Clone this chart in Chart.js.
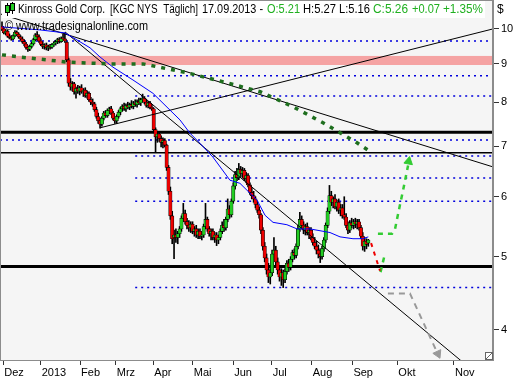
<!DOCTYPE html>
<html>
<head>
<meta charset="utf-8">
<script src="https://cdn.jsdelivr.net/npm/chart.js@4.4.0/dist/chart.umd.min.js"></script>
<style>
  html, body { margin: 0; padding: 0; background: #fff; }
  #wrap { width: 514px; height: 380px; }
</style>
</head>
<body>
<div id="wrap"><canvas id="chart"></canvas></div>
<script>
// Kinross Gold (KGC, NYSE) daily candles, Dec 2012 - 17.09.2013, x = bar number
const opens = [
  10.08,10.00,9.88,9.93,9.78,9.74,9.70,9.79,9.90,9.84,
  9.76,9.70,9.62,9.55,9.45,9.40,9.48,9.56,9.68,9.82,
  9.76,9.64,9.54,9.48,9.52,9.44,9.48,9.46,9.53,9.58,
  9.62,9.68,9.62,9.72,9.70,9.60,9.10,8.48,8.38,8.46,
  8.26,8.34,8.28,8.36,8.26,8.30,8.16,8.22,8.06,8.00,
  7.96,7.82,7.66,7.56,7.48,7.62,7.74,7.68,7.80,7.84,
  7.74,7.62,7.56,7.66,7.76,7.84,7.90,7.84,7.92,7.88,
  7.94,7.90,7.98,7.94,8.02,7.98,8.06,8.10,8.00,7.92,
  7.98,7.88,7.84,7.36,7.20,7.26,7.16,7.08,7.12,7.02,
  6.56,6.10,5.66,5.30,5.34,5.30,5.36,5.44,5.62,5.70,
  5.56,5.50,5.46,5.52,5.40,5.44,5.34,5.40,5.32,5.34,
  5.48,5.60,5.44,5.36,5.40,5.30,5.34,5.26,5.30,5.40,
  5.50,5.46,5.60,5.78,5.68,5.92,6.20,6.42,6.36,6.52,
  6.44,6.50,6.34,6.40,6.22,6.08,6.02,5.96,5.86,5.76,
  5.68,5.42,5.16,4.98,4.80,4.70,4.76,5.04,5.10,4.92,
  4.80,4.70,4.76,4.66,4.78,4.90,4.84,4.96,5.06,5.02,
  5.16,5.44,5.60,5.50,5.42,5.48,5.38,5.42,5.30,5.22,
  5.16,5.10,5.04,5.00,5.12,5.26,5.50,5.74,6.02,5.90,
  5.96,5.82,5.90,5.76,5.80,5.68,5.64,5.50,5.42,5.54,
  5.50,5.56,5.52,5.56,5.46,5.32,5.16,5.24,5.21
];
const highs = [
  10.22,10.05,9.98,9.97,9.85,9.80,9.82,9.95,9.94,9.88,
  9.80,9.76,9.68,9.60,9.50,9.52,9.60,9.72,9.86,9.92,
  9.82,9.70,9.60,9.56,9.58,9.52,9.54,9.56,9.62,9.66,
  9.72,9.74,9.76,9.84,9.88,9.62,9.15,8.60,8.52,8.50,
  8.38,8.42,8.40,8.44,8.34,8.36,8.28,8.26,8.12,8.08,
  8.00,7.88,7.74,7.62,7.66,7.78,7.80,7.84,7.88,7.90,
  7.78,7.66,7.70,7.80,7.88,7.94,7.98,7.96,8.00,7.98,
  8.04,8.02,8.06,8.06,8.10,8.10,8.20,8.14,8.06,8.02,
  8.02,7.94,7.86,7.40,7.32,7.32,7.22,7.18,7.16,7.04,
  6.60,6.18,5.74,5.42,5.44,5.40,5.48,5.66,5.88,5.76,
  5.62,5.58,5.56,5.56,5.48,5.50,5.44,5.44,5.38,5.52,
  5.88,5.64,5.48,5.44,5.44,5.38,5.38,5.34,5.44,5.56,
  5.60,5.64,5.96,5.84,5.96,6.26,6.48,6.54,6.64,6.58,
  6.56,6.54,6.46,6.44,6.26,6.16,6.10,6.00,5.92,5.82,
  5.70,5.46,5.22,5.04,4.90,4.82,5.10,5.30,5.16,4.98,
  4.86,4.82,4.80,4.82,4.94,4.96,5.00,5.10,5.12,5.20,
  5.50,5.72,5.66,5.56,5.52,5.54,5.46,5.46,5.36,5.30,
  5.24,5.18,5.12,5.16,5.30,5.54,5.80,6.21,6.10,6.00,
  6.04,5.94,5.96,5.86,5.86,6.00,5.70,5.56,5.58,5.62,
  5.60,5.62,5.60,5.60,5.50,5.38,5.30,5.28,5.27
];
const lows = [
  9.95,9.85,9.82,9.75,9.70,9.66,9.68,9.76,9.80,9.72,
  9.66,9.58,9.50,9.40,9.34,9.36,9.44,9.52,9.64,9.72,
  9.60,9.50,9.42,9.40,9.38,9.36,9.40,9.42,9.48,9.52,
  9.56,9.58,9.60,9.66,9.60,9.05,8.40,8.30,8.28,8.20,
  8.10,8.22,8.18,8.22,8.14,8.12,8.10,8.02,7.94,7.90,
  7.78,7.62,7.50,7.39,7.44,7.58,7.64,7.64,7.72,7.70,
  7.58,7.50,7.50,7.62,7.70,7.78,7.80,7.78,7.84,7.82,
  7.86,7.84,7.90,7.88,7.94,7.92,8.00,7.96,7.88,7.86,
  7.84,7.80,7.30,6.88,7.08,7.10,6.98,6.96,6.98,6.50,
  6.04,5.60,5.20,4.97,5.22,5.20,5.30,5.40,5.56,5.52,
  5.44,5.40,5.38,5.36,5.32,5.30,5.28,5.28,5.26,5.30,
  5.44,5.40,5.32,5.26,5.26,5.22,5.17,5.20,5.26,5.36,
  5.40,5.42,5.56,5.62,5.64,5.88,6.14,6.30,6.32,6.38,
  6.36,6.30,6.26,6.18,6.04,5.96,5.90,5.80,5.72,5.62,
  5.36,5.10,4.92,4.74,4.62,4.60,4.72,4.98,4.86,4.74,
  4.64,4.58,4.55,4.62,4.74,4.78,4.80,4.92,4.96,4.98,
  5.12,5.40,5.44,5.36,5.34,5.34,5.28,5.26,5.18,5.12,
  5.04,4.98,4.91,4.96,5.08,5.22,5.46,5.70,5.84,5.80,
  5.78,5.74,5.70,5.66,5.62,5.60,5.46,5.36,5.38,5.46,
  5.44,5.46,5.44,5.42,5.28,5.10,5.08,5.12,5.16
];
const closes = [
  9.98,9.88,9.93,9.78,9.74,9.70,9.79,9.90,9.84,9.76,
  9.70,9.62,9.55,9.45,9.40,9.48,9.56,9.68,9.82,9.76,
  9.64,9.54,9.48,9.52,9.44,9.48,9.46,9.53,9.58,9.62,
  9.68,9.62,9.72,9.70,9.64,9.10,8.48,8.38,8.46,8.26,
  8.34,8.28,8.36,8.26,8.30,8.16,8.22,8.06,8.00,7.96,
  7.82,7.66,7.56,7.48,7.62,7.74,7.68,7.80,7.84,7.74,
  7.62,7.56,7.66,7.76,7.84,7.90,7.84,7.92,7.88,7.94,
  7.90,7.98,7.94,8.02,7.98,8.06,8.10,8.00,7.92,7.98,
  7.88,7.84,7.36,7.20,7.26,7.16,7.08,7.12,7.02,6.56,
  6.10,5.66,5.28,5.34,5.30,5.36,5.44,5.62,5.70,5.56,
  5.50,5.46,5.52,5.40,5.44,5.34,5.40,5.32,5.34,5.48,
  5.60,5.44,5.36,5.40,5.30,5.34,5.26,5.30,5.40,5.50,
  5.46,5.60,5.78,5.68,5.92,6.20,6.42,6.36,6.52,6.44,
  6.50,6.34,6.40,6.22,6.08,6.02,5.96,5.86,5.76,5.68,
  5.42,5.16,4.98,4.80,4.70,4.76,5.04,5.10,4.92,4.80,
  4.70,4.76,4.66,4.78,4.90,4.84,4.96,5.06,5.02,5.16,
  5.44,5.60,5.50,5.42,5.48,5.38,5.42,5.30,5.22,5.16,
  5.10,5.04,5.00,5.12,5.26,5.50,5.74,6.02,5.90,5.96,
  5.82,5.90,5.76,5.80,5.66,5.64,5.50,5.42,5.54,5.50,
  5.56,5.52,5.56,5.46,5.32,5.16,5.24,5.19,5.26
];

// moving average (blue)
const maX = [0,20.5,34,40.5,47.6,53,60,70.8,81.6,89.2,96.2,101.6,107,114,123.2,128.6,132.4,137.8,142.2,146.5,154,159.5,166.5,177.3,182.7,189.7,195,198];
const maY = [10.06,9.97,9.88,9.67,9.44,9.18,8.90,8.56,8.22,7.88,7.58,7.28,7.06,6.77,6.31,6.25,6.12,5.94,5.67,5.55,5.51,5.44,5.44,5.38,5.31,5.28,5.28,5.31];

// axis
const monthPos = [0.7,20.9,42.2,61.5,81.8,103.1,125,145.8,167.4,189.4,213.7,244.3];
const monthLabels = ['Dez','2013','Feb','Mrz','Apr','Mai','Jun','Jul','Aug','Sep','Okt','Nov'];
const yTicks = [4,5,6,7,8,9,10];
const xMin = -1.08, xMax = 265.4;
const yMin = 3.65, yMax = 10.92;

// drawn levels
const bandLow = 8.96, bandHigh = 9.21;
const dottedFull = [9.64, 8.67, 7.13];
const dottedPart = [8.15, 6.79, 6.35, 5.92, 4.55];
const dottedPartFrom = 72;
const thickLevels = [7.30, 4.85];
const thinLevels = [6.86];

// trend lines [x0, x1], [y0, y1]
const trendLines = [
  { x: [xMin, xMax], y: [10.47, 6.57] },
  { x: [34.05, 253], y: [9.91, 3.56] },
  { x: [53, xMax], y: [7.40, 10.0] }
];

// dark green dotted curve
const curveX = [0,9.7,18.9,35.1,57.3,76.2,100,122.2,139.5,157.3,174.6,191.9,200];
const curveY = [9.24,9.18,9.13,9.04,8.99,8.99,8.75,8.48,8.26,7.89,7.49,7.07,6.86];

// forecast paths (null = gap)
const redX = [199.5, 204.3];
const redY = [5.21, 4.79];
const greenX = [204.6, 206.8, null, 203.2, 210.8, 212.4, 213.5, 215.1, 216.8, 218.4, 219.5];
const greenY = [4.77, 5.02, null, 5.36, 5.36, 5.43, 5.60, 5.85, 6.12, 6.40, 6.60];
const grayX = [208.6, 220.5, 235.1];
const grayY = [4.47, 4.47, 3.74];

const FONT = '"Liberation Sans", Arial, sans-serif';
const RED = '#ee0000', GREEN = '#22cc22';

function pts(xs, ys) {
  return xs.map((x, i) => (x === null ? { x: null, y: null } : { x: x, y: ys[i] }));
}
function line(data, color, width, dash, order) {
  return {
    type: 'line', data: data, borderColor: color, borderWidth: width,
    borderDash: dash || [], pointRadius: 0, tension: 0, fill: false,
    spanGaps: false, order: order, borderCapStyle: 'butt'
  };
}

const datasets = [];
dottedFull.forEach(v => datasets.push(line(pts([xMin, xMax], [v, v]), '#0000dd', 1.5, [2, 4], 30)));
dottedPart.forEach(v => datasets.push(line(pts([dottedPartFrom, xMax], [v, v]), '#0000dd', 1.5, [2, 4], 30)));
thickLevels.forEach(v => datasets.push(line(pts([xMin, xMax], [v, v]), '#000', 3, null, 29)));
thinLevels.forEach(v => datasets.push(line(pts([xMin, xMax], [v, v]), '#000', 1.5, null, 29)));

datasets.push({
  type: 'bar', grouped: false, order: 21, barThickness: 1,
  data: lows.map((l, i) => ({ x: i, y: [l, highs[i]] })),
  backgroundColor: '#000'
});
datasets.push({
  type: 'bar', grouped: false, order: 20, barThickness: 3.4,
  data: opens.map((o, i) => ({ x: i, y: [o, closes[i]] })),
  backgroundColor: opens.map((o, i) => (closes[i] >= o ? GREEN : RED)),
  borderColor: '#000', borderWidth: 0.6, borderSkipped: false
});

trendLines.forEach(t => datasets.push(line(pts(t.x, t.y), '#000', 1, null, 15)));
datasets.push(line(pts(maX, maY), '#0000ff', 1, null, 14));
datasets.push(line(pts(curveX, curveY), '#1e6e1e', 3.5, [4, 6], 12));
datasets.push(line(pts(redX, redY), RED, 2, [4, 5], 11));
datasets.push(line(pts(greenX, greenY), '#33cc33', 2.5, [5, 5], 11));
datasets.push(line(pts(grayX, grayY), '#999999', 2, [6, 5], 11));
// arrow heads
datasets.push({ type: 'line', data: [{ x: 219.8, y: 6.68 }], showLine: false, pointStyle: 'triangle',
  pointRadius: 5, rotation: 11, backgroundColor: '#33cc33', borderColor: '#33cc33', order: 10 });
datasets.push({ type: 'line', data: [{ x: 235.6, y: 3.72 }], showLine: false, pointStyle: 'triangle',
  pointRadius: 5, rotation: 155, backgroundColor: '#999999', borderColor: '#999999', order: 10 });

const decor = {
  id: 'decor',
  beforeDraw(chart) {
    const { ctx, chartArea: a } = chart;
    ctx.save();
    ctx.fillStyle = '#fff';
    ctx.fillRect(0, 0, chart.width, chart.height);
    ctx.fillStyle = '#f5f5f5';
    ctx.fillRect(a.left, a.top, a.right - a.left, a.bottom - a.top);
    ctx.restore();
  },
  beforeDatasetsDraw(chart) {
    const { ctx, chartArea: a, scales } = chart;
    const y1 = scales.y.getPixelForValue(bandHigh);
    const y2 = scales.y.getPixelForValue(bandLow);
    ctx.save();
    ctx.fillStyle = '#f5a3a3';
    ctx.fillRect(a.left, y1, a.right - a.left, y2 - y1);
    ctx.restore();
  },
  afterDraw(chart) {
    const { ctx, chartArea: a } = chart;
    ctx.save();
    // plot frame
    ctx.strokeStyle = '#8c8c8c';
    ctx.lineWidth = 1;
    ctx.strokeRect(a.left + 0.5, a.top + 0.5, a.right - a.left - 1, a.bottom - a.top);
    // resize mark
    ctx.fillStyle = '#fff';
    ctx.fillRect(485, 352, 7, 7);
    ctx.strokeStyle = '#666';
    ctx.strokeRect(485.5, 352.5, 7, 7);
    ctx.beginPath(); ctx.moveTo(486, 359); ctx.lineTo(492, 353); ctx.stroke();

    // title box
    ctx.fillStyle = '#fff';
    ctx.fillRect(2, 1, 483, 17);
    // candle icon
    ctx.strokeStyle = '#000';
    ctx.beginPath(); ctx.moveTo(7.5, 3); ctx.lineTo(7.5, 16); ctx.moveTo(12.5, 2); ctx.lineTo(12.5, 14); ctx.stroke();
    ctx.fillStyle = GREEN;
    ctx.fillRect(6, 6, 3, 6); ctx.strokeRect(5.5, 5.5, 4, 7);
    ctx.fillRect(11, 4, 3, 6); ctx.strokeRect(10.5, 3.5, 4, 7);

    ctx.font = '12px ' + FONT;
    ctx.textBaseline = 'middle';
    ctx.textAlign = 'left';
    const tg = '#20b020';
    const parts = [
      ['Kinross Gold Corp.', 18, 87, '#000'],
      ['[KGC NYS  T\u00e4glich]', 110, 88, '#000'],
      ['17.09.2013 -', 202, 61, '#000'],
      ['O:5.21', 267, 33, tg],
      ['H:5.27', 303, 33, '#000'],
      ['L:5.16', 339, 31, '#000'],
      ['C:5.26', 373, 35, tg],
      ['+0.07', 412, 28, tg],
      ['+1.35%', 443, 40, tg]
    ];
    parts.forEach(p => { ctx.fillStyle = p[3]; ctx.fillText(p[0], p[1], 10, p[2]); });
    ctx.fillStyle = '#000';
    ctx.fillText('$', 497, 10);
    ctx.fillText('\u00a9 www.tradesignalonline.com', 5, 27, 143);
    ctx.restore();
  }
};

new Chart(document.getElementById('chart'), {
  type: 'bar',
  data: { datasets: datasets },
  options: {
    responsive: true,
    maintainAspectRatio: false,
    devicePixelRatio: 1,
    animation: false,
    events: [],
    layout: { padding: 0, autoPadding: false },
    plugins: { legend: { display: false }, tooltip: { enabled: false } },
    scales: {
      x: {
        type: 'linear', position: 'bottom', min: xMin, max: xMax,
        offset: false,
        afterBuildTicks: s => { s.ticks = monthPos.map(v => ({ value: v })); },
        afterFit: s => { s.height = 20; s.paddingLeft = 0; s.paddingRight = 0; },
        ticks: {
          autoSkip: false, maxRotation: 0, align: 'start', labelOffset: 1, padding: 1,
          color: '#000', font: { family: FONT, size: 11 },
          callback: (v, i) => monthLabels[i]
        },
        grid: { drawOnChartArea: false, drawTicks: true, tickLength: 5, color: '#333', offset: false },
        border: { display: true, color: '#8c8c8c' }
      },
      y: {
        type: 'logarithmic', position: 'right', min: yMin, max: yMax,
        beginAtZero: false,
        afterBuildTicks: s => { s.ticks = yTicks.map(v => ({ value: v })); },
        afterFit: s => { s.width = 21; s.paddingTop = 0; s.paddingBottom = 0; },
        ticks: {
          padding: 2, color: '#000', font: { family: FONT, size: 11 },
          callback: v => String(v)
        },
        grid: { drawOnChartArea: false, drawTicks: true, tickLength: 6, color: '#333' },
        border: { display: true, color: '#8c8c8c' }
      }
    }
  },
  plugins: [decor]
});
</script>
</body>
</html>
